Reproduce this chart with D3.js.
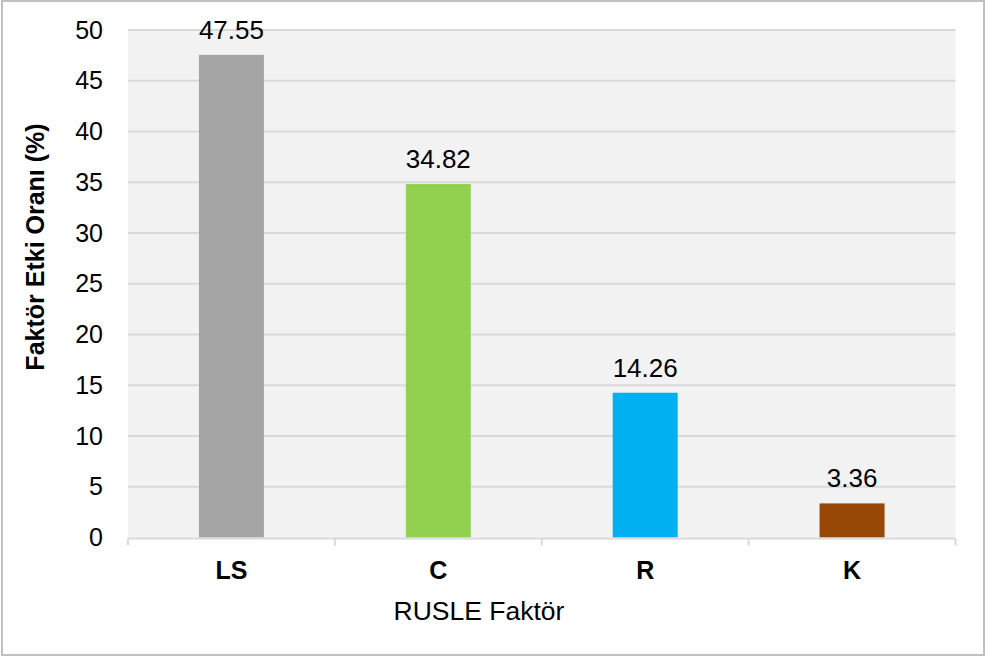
<!DOCTYPE html>
<html>
<head>
<meta charset="utf-8">
<script src="https://cdn.jsdelivr.net/npm/d3@7"></script>
<style>
  html, body { margin: 0; padding: 0; background: #fff; }
  svg { display: block; font-family: "Liberation Sans", Arial, sans-serif; }
</style>
</head>
<body>
<svg id="chart" width="986" height="658"></svg>
<script>
const categories = ["LS", "C", "R", "K"];
const values = [47.55, 34.82, 14.26, 3.36];
const barColors = ["#a5a5a5", "#92d050", "#00b0f0", "#974706"];
const yTicks = [0, 5, 10, 15, 20, 25, 30, 35, 40, 45, 50];
const xTitle = "RUSLE Faktör";
const yTitle = "Faktör Etki Oranı (%)";

const svg = d3.select("#chart");
const W = 986, H = 658;
const plot = { left: 128, right: 955.5, top: 30, bottom: 537.5 };

// chart border
svg.append("rect")
  .attr("x", 2).attr("y", 1).attr("width", W - 4).attr("height", H - 4)
  .attr("fill", "#fff").attr("stroke", "#c0c0c0").attr("stroke-width", 2);

// plot area background
svg.append("rect")
  .attr("x", plot.left).attr("y", plot.top)
  .attr("width", plot.right - plot.left).attr("height", plot.bottom - plot.top)
  .attr("fill", "#f2f2f2");

const y = d3.scaleLinear().domain([0, 50]).range([plot.bottom, plot.top]);
const x = d3.scaleBand().domain(categories).range([plot.left, plot.right])
  .paddingInner(0.686).paddingOuter(0.343);

// gridlines
svg.append("g").selectAll("line").data(yTicks.filter(d => d > 0)).join("line")
  .attr("x1", plot.left).attr("x2", plot.right)
  .attr("y1", d => y(d)).attr("y2", d => y(d))
  .attr("stroke", "#d9d9d9").attr("stroke-width", 2);

// y axis labels
const yAxis = d3.axisLeft(y).tickValues(yTicks).tickSize(0).tickPadding(0).tickFormat(d3.format("d"));
const gy = svg.append("g").attr("transform", `translate(103,0)`).call(yAxis);
gy.select(".domain").remove();
gy.selectAll("text").attr("font-size", 25).attr("fill", "#000")
  .attr("font-family", "Liberation Sans, Arial, sans-serif");

// bars
svg.append("g").selectAll("rect").data(values).join("rect")
  .attr("x", (d, i) => x(categories[i]))
  .attr("width", x.bandwidth())
  .attr("y", d => y(d))
  .attr("height", d => y(0) - y(d))
  .attr("fill", (d, i) => barColors[i]);

// data labels
svg.append("g").selectAll("text").data(values).join("text")
  .attr("x", (d, i) => x(categories[i]) + x.bandwidth() / 2)
  .attr("y", d => y(d) - 16)
  .attr("text-anchor", "middle")
  .attr("font-size", 26).attr("fill", "#000")
  .text(d => d.toFixed(2));

// x axis
const xAxis = d3.axisBottom(x).tickSize(0).tickPadding(0);
const gx = svg.append("g").attr("transform", `translate(0,${plot.bottom + 1})`).call(xAxis);
gx.select(".domain").attr("stroke", "#d9d9d9").attr("stroke-width", 2)
  .attr("d", `M${plot.left},0H${plot.right}`);
gx.selectAll(".tick text").attr("font-size", 25).attr("font-weight", "bold")
  .attr("fill", "#000").attr("dy", null).attr("y", 40)
  .attr("font-family", "Liberation Sans, Arial, sans-serif");
// category boundary ticks
const bounds = categories.map(c => x(c) - x.step() * x.paddingInner() / 2).concat([plot.right]);
gx.append("g").selectAll("line").data(bounds).join("line")
  .attr("x1", d => d).attr("x2", d => d).attr("y1", 0).attr("y2", 7)
  .attr("stroke", "#d9d9d9").attr("stroke-width", 2);

// axis titles
svg.append("text")
  .attr("x", 479).attr("y", 620)
  .attr("text-anchor", "middle").attr("font-size", 26.5).attr("fill", "#000")
  .text(xTitle);

svg.append("text")
  .attr("transform", `translate(43.5,247) rotate(-90)`)
  .attr("text-anchor", "middle").attr("font-size", 25).attr("font-weight", "bold").attr("fill", "#000")
  .text(yTitle);
</script>
</body>
</html>
